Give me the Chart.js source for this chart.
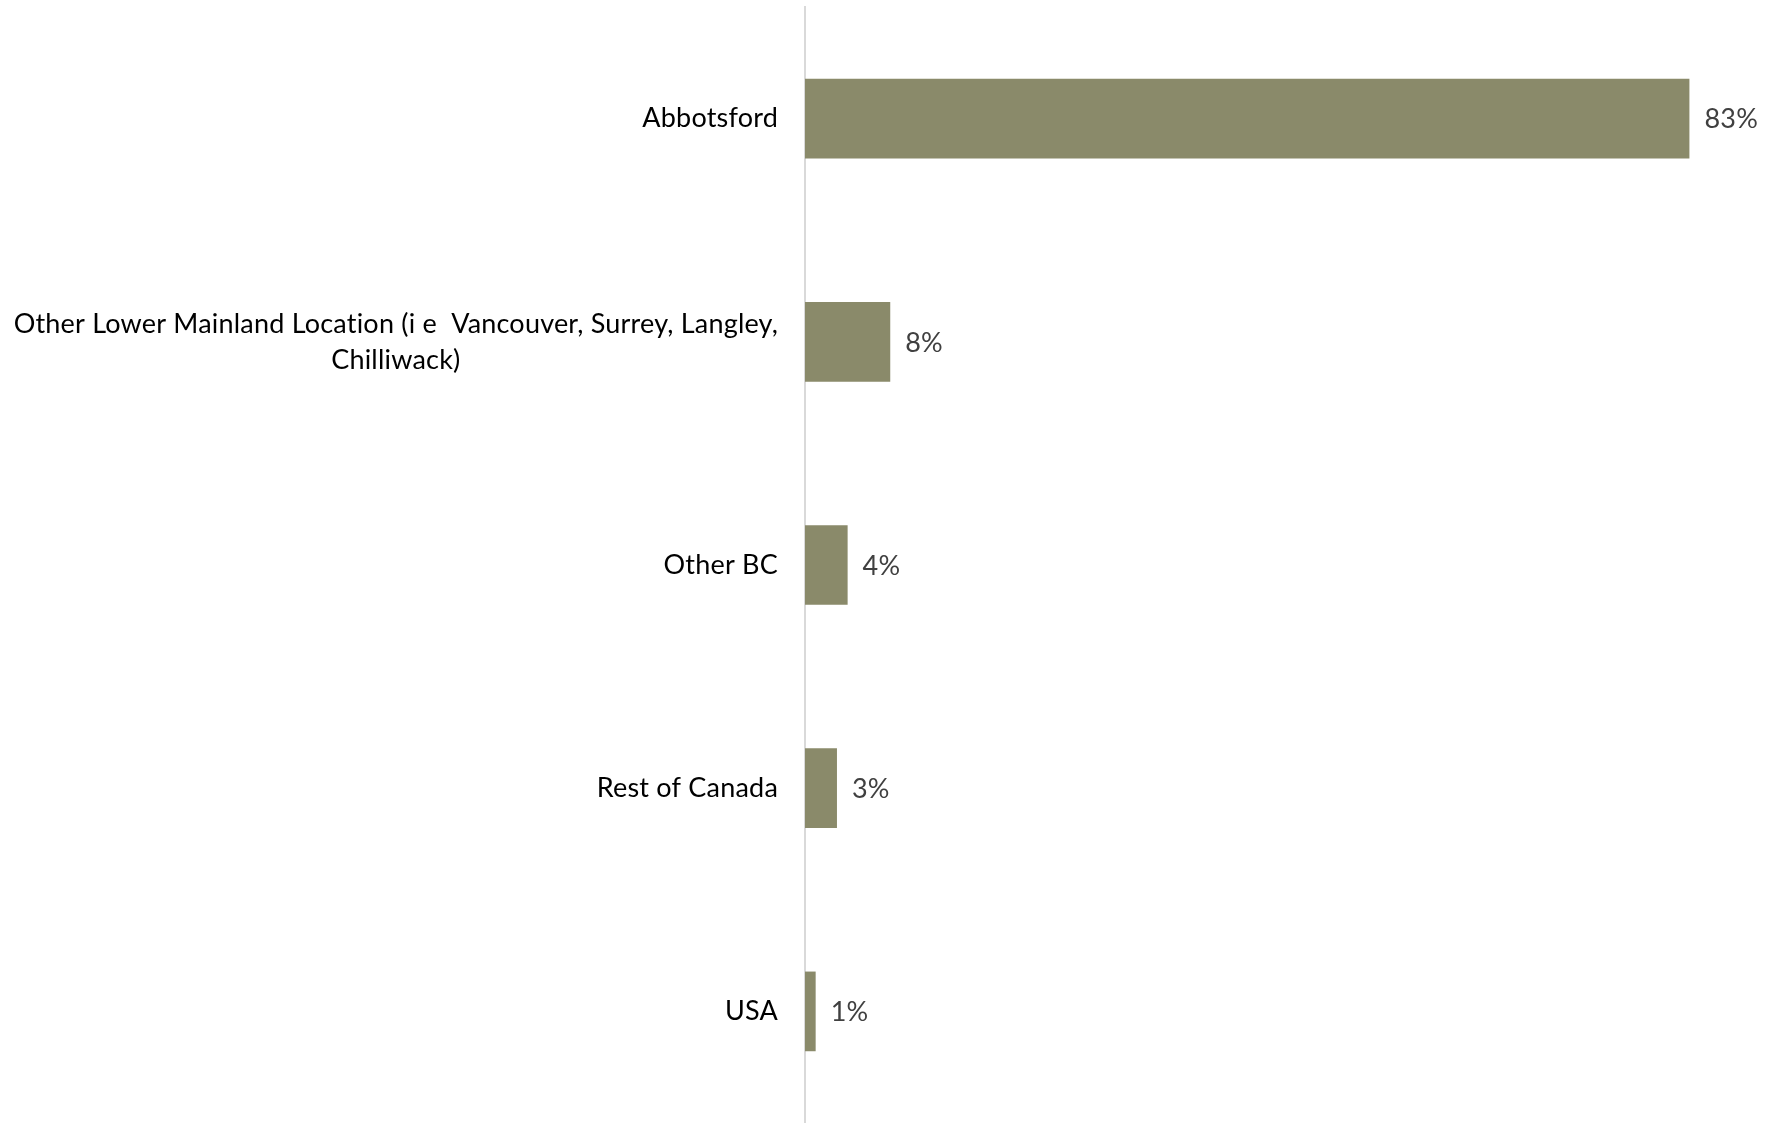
<!DOCTYPE html>
<html>
<head>
<meta charset="utf-8">
<title>Location</title>
<script src="https://cdn.jsdelivr.net/npm/chart.js@4"></script>
<style>
  html, body { margin: 0; padding: 0; background: #fff; }
  #wrap { width: 1770px; height: 1123px; }
</style>
</head>
<body>
<div id="wrap"><canvas id="chart" width="1770" height="1123"></canvas></div>
<script>
// categories (multi-line entries are arrays of lines)
const categories = [
    ['Abbotsford'],
    ['Other Lower Mainland Location (i e  Vancouver, Surrey, Langley,', 'Chilliwack)'],
    ['Other BC'],
    ['Rest of Canada'],
    ['USA'],
];
const shares = [83, 8, 4, 3, 1];

const FONT = 'Lato, "Open Sans", sans-serif';
const barColor = '#8a8a6a';

// category names on the left, value labels after each bar
const barLabels = {
    id: 'barLabels',
    afterDatasetsDraw(chart) {
        const ctx = chart.ctx;
        const yScale = chart.scales.y;
        const meta = chart.getDatasetMeta(0);
        ctx.save();
        ctx.textBaseline = 'middle';
        // small spacing also stops Lato's "ti" ligature
        ctx.letterSpacing = '0.2px';

        ctx.font = `27px ${FONT}`;
        ctx.fillStyle = '#404040';
        ctx.textAlign = 'left';
        meta.data.forEach((bar, i) => {
            ctx.fillText(shares[i] + '%', bar.x + 15, bar.y + 1);
        });

        ctx.fillStyle = '#000';
        ctx.textAlign = 'center';
        const right = chart.chartArea.left - 27;
        const lineHeight = 36;
        categories.forEach((lines, i) => {
            const y = yScale.getPixelForValue(i);
            const block = Math.max(...lines.map(l => ctx.measureText(l).width));
            const cx = right - block / 2;
            lines.forEach((l, j) => {
                ctx.fillText(l, cx, y + (j - (lines.length - 1) / 2) * lineHeight);
            });
        });
        ctx.restore();
    }
};

new Chart(document.getElementById('chart'), {
    type: 'bar',
    data: {
        labels: categories.map(c => c.join(' ')),
        datasets: [{
            data: shares,
            backgroundColor: barColor,
            borderWidth: 0,
            categoryPercentage: 1,
            barPercentage: 0.357,
        }]
    },
    options: {
        indexAxis: 'y',
        responsive: false,
        animation: false,
        layout: {
            padding: { left: 797, right: 6, top: 7, bottom: 0 }
        },
        plugins: {
            legend: { display: false },
            tooltip: { enabled: false },
        },
        scales: {
            x: {
                display: false,
                min: 0,
                max: 90,
            },
            y: {
                ticks: { display: false },
                grid: { display: false },
                border: { display: true, color: '#d9d9d9', width: 2 },
            }
        }
    },
    plugins: [barLabels]
});
</script>
</body>
</html>
